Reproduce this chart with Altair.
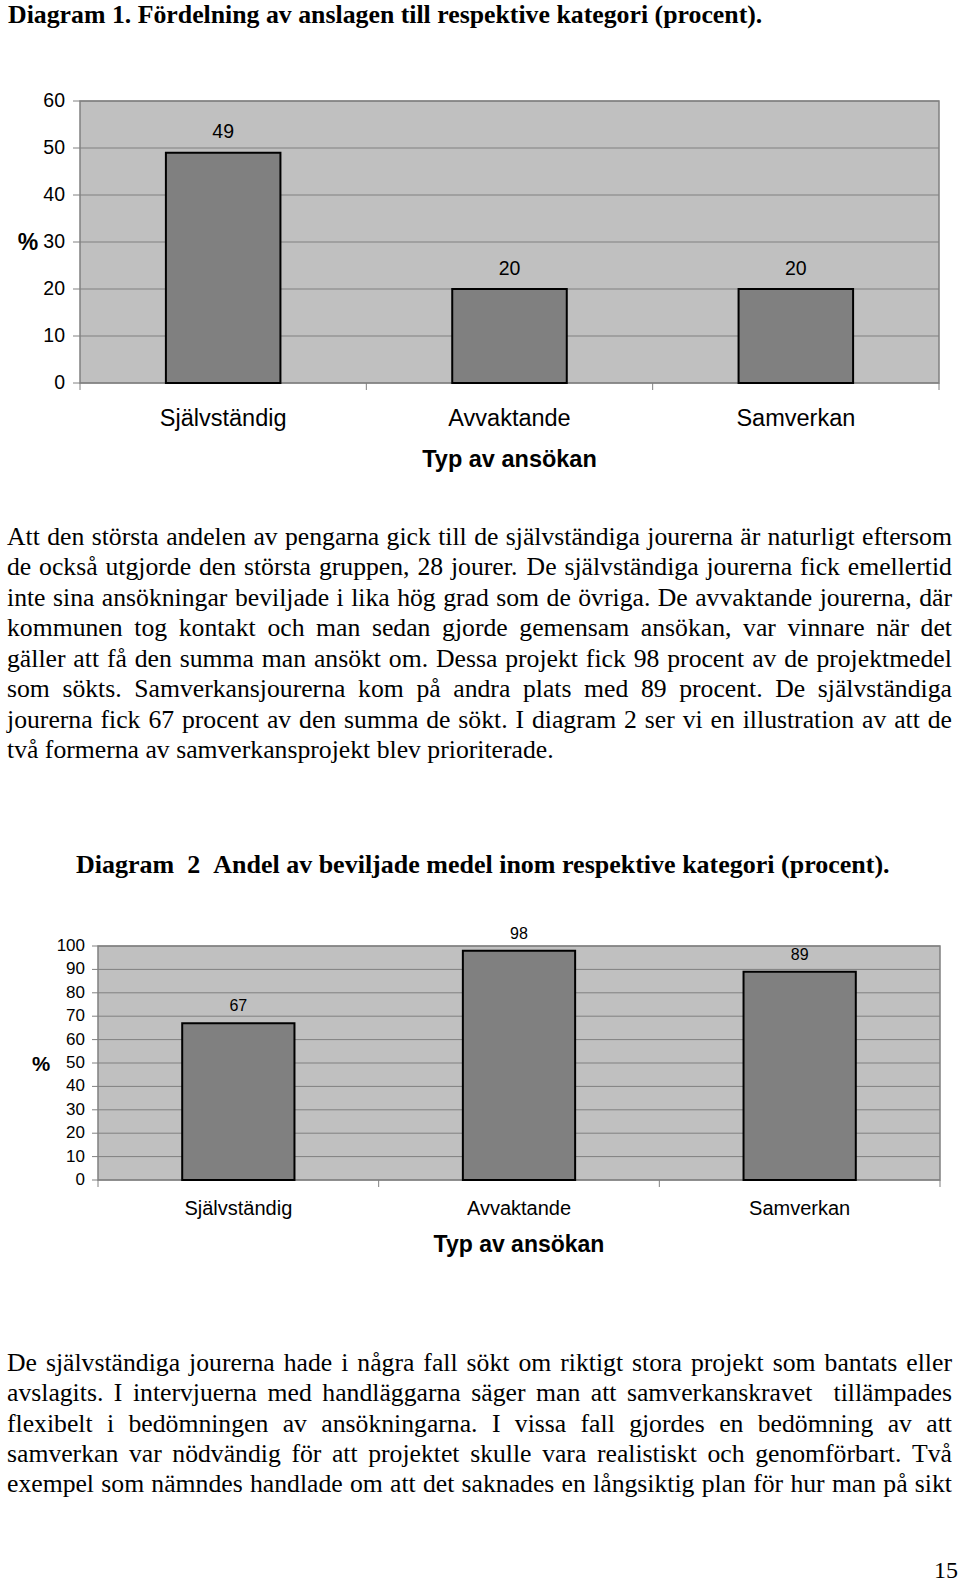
import altair as alt
import pandas as pd

# ---------------- data ----------------
categories = ["Självständig", "Avvaktande", "Samverkan"]
share_of_grants = [49, 20, 20]      # Diagram 1 (% of total grants)
share_approved = [67, 98, 89]       # Diagram 2 (% of applied amount granted)
ticks_1 = [0, 10, 20, 30, 40, 50, 60]
ticks_2 = [0, 10, 20, 30, 40, 50, 60, 70, 80, 90, 100]

title_1 = "Diagram 1. Fördelning av anslagen till respektive kategori (procent)."
title_2 = "Diagram\u00a0\u00a02\u00a0\u00a0Andel av beviljade medel inom respektive kategori (procent)."
x_title = "Typ av ansökan"
y_title = "%"
page_number = "15"

paragraph_1 = [
    "Att den största andelen av pengarna gick till de självständiga jourerna är naturligt eftersom",
    "de också utgjorde den största gruppen, 28 jourer. De självständiga jourerna fick emellertid",
    "inte sina ansökningar beviljade i lika hög grad som de övriga. De avvaktande jourerna, där",
    "kommunen tog kontakt och man sedan gjorde gemensam ansökan, var vinnare när det",
    "gäller att få den summa man ansökt om. Dessa projekt fick 98 procent av de projektmedel",
    "som sökts. Samverkansjourerna kom på andra plats med 89 procent. De självständiga",
    "jourerna fick 67 procent av den summa de sökt. I diagram 2 ser vi en illustration av att de",
    "två formerna av samverkansprojekt blev prioriterade.",
]
paragraph_2 = [
    "De självständiga jourerna hade i några fall sökt om riktigt stora projekt som bantats eller",
    "avslagits. I intervjuerna med handläggarna säger man att samverkanskravet  tillämpades",
    "flexibelt i bedömningen av ansökningarna. I vissa fall gjordes en bedömning av att",
    "samverkan var nödvändig för att projektet skulle vara realistiskt och genomförbart. Två",
    "exempel som nämndes handlade om att det saknades en långsiktig plan för hur man på sikt",
]

# ---------------- style / layout ----------------
W, H = 960, 1583
SANS = "Liberation Sans"
SERIF = "Liberation Serif"
BG = "#c0c0c0"
BAR = "#808080"
GRID = "#808080"

# Advance widths (1/1000 em) of the serif body font, used only to justify lines.
CHAR_W = {" ": 250, "\u00a0": 250, ",": 250, ".": 250, "å": 444, "ä": 444, "ö": 500,
          "A": 722, "D": 722, "I": 333, "S": 556, "T": 611}
CHAR_W.update({c: 500 for c in "0123456789"})
CHAR_W.update(dict(zip("abcdefghijklmnopqrstuvwxyz",
                       [444, 500, 444, 500, 444, 333, 500, 500, 278, 278, 500, 278, 778,
                        500, 500, 500, 500, 333, 389, 278, 500, 500, 722, 500, 500, 444])))


def text_width(s, size):
    return sum(CHAR_W.get(c, 500) for c in s) * size / 1000.0


def justified_words(lines, left, right, size, justify_last):
    rows = []
    for i, line in enumerate(lines):
        words = line.split(" ")
        widths = [text_width(w, size) for w in words]
        last = i == len(lines) - 1
        if (not last or justify_last) and len(words) > 1:
            gap = (right - left - sum(widths)) / (len(words) - 1)
        else:
            gap = CHAR_W[" "] * size / 1000.0
        x = left
        for w, wd in zip(words, widths):
            if w:
                rows.append({"w": w, "line": i, "x": x})
            x += wd + gap
    return pd.DataFrame(rows)


def paragraph(lines, y0, step, size, justify_last):
    df = justified_words(lines, 7, 952, size, justify_last)
    return alt.Chart(df).transform_calculate(
        py=f"{y0} + datum.line * {step}"
    ).mark_text(
        align="left", baseline="alphabetic", font=SERIF, fontSize=size, color="black"
    ).encode(
        x=alt.X("x:Q", scale=None), y=alt.Y("py:Q", scale=None), text="w:N"
    )


def single_text(txt, x, y, font, size, weight="normal", align="left"):
    return alt.Chart(pd.DataFrame({"t": [txt]})).mark_text(
        align=align, baseline="alphabetic", font=font, fontSize=size,
        fontWeight=weight, color="black",
    ).encode(x=alt.value(x), y=alt.value(y), text="t:N")


def panel(values, ticks, box, s):
    left, right, top, bottom = box
    df = pd.DataFrame({"kategori": categories, "procent": values})
    gdf = pd.DataFrame({"v": ticks})
    xs = alt.Scale(domain=categories, range=[left, right], paddingInner=0, paddingOuter=0)
    ys = alt.Scale(domain=[ticks[0], ticks[-1]], range=[bottom, top], nice=False)
    X = lambda **kw: alt.X("kategori:N", scale=xs, sort=categories, axis=None, **kw)

    bg = alt.Chart(gdf).mark_rect(fill=BG, stroke=GRID, strokeWidth=1.5).encode(
        x=alt.value(left), x2=alt.value(right),
        y=alt.Y("max(v):Q", scale=ys, axis=None), y2=alt.Y2("min(v):Q"),
    )
    grid = alt.Chart(gdf).mark_rule(color=GRID, strokeWidth=1).encode(
        y=alt.Y("v:Q", scale=ys, axis=None), x=alt.value(left), x2=alt.value(right),
    )
    ytick_marks = alt.Chart(gdf).mark_rule(color=GRID, strokeWidth=1).encode(
        y=alt.Y("v:Q", scale=ys, axis=None),
        x=alt.value(left - s["ytick"]), x2=alt.value(left),
    )
    ytick_labels = alt.Chart(gdf).mark_text(
        align="right", baseline="middle", font=SANS, fontSize=s["ylab"], color="black"
    ).encode(
        y=alt.Y("v:Q", scale=ys, axis=None), x=alt.value(left - s["ytick"] - s["ypad"]),
        text="v:Q",
    )
    xtick_marks = alt.Chart(df).mark_rule(color=GRID, strokeWidth=1).encode(
        x=X(bandPosition=0), y=alt.value(bottom), y2=alt.value(bottom + 7),
    )
    xtick_end = alt.Chart(df).transform_filter(
        alt.datum.kategori == categories[-1]
    ).mark_rule(color=GRID, strokeWidth=1).encode(
        x=X(bandPosition=1), y=alt.value(bottom), y2=alt.value(bottom + 7),
    )
    xtick_labels = alt.Chart(df).mark_text(
        align="center", baseline="alphabetic", font=SANS, fontSize=s["xlab"], color="black"
    ).encode(
        x=X(), y=alt.value(bottom + s["xlabdy"]), text="kategori:N",
    )
    bars = alt.Chart(df).mark_bar(
        width={"band": 0.4}, color=BAR, stroke="black", strokeWidth=2
    ).encode(
        x=X(), y=alt.Y("procent:Q", scale=ys, axis=None),
    )
    labels = alt.Chart(df).mark_text(
        font=SANS, fontSize=s["val"], baseline="alphabetic", dy=s["valdy"], color="black"
    ).encode(
        x=X(), y=alt.Y("procent:Q", scale=ys, axis=None), text="procent:Q",
    )
    pct = single_text(y_title, s["pctX"], s["pctY"], SANS, s["pct"], "bold", "center")
    xt = single_text(x_title, (left + right) / 2, s["titleY"], SANS, s["title"], "bold", "center")
    return alt.layer(bg, grid, ytick_marks, ytick_labels, xtick_marks, xtick_end,
                     xtick_labels, bars, labels, pct, xt)


p1 = panel(
    share_of_grants, ticks_1, (80, 939, 101, 383),
    dict(xlab=23.5, xlabdy=43, title=23.5, titleY=467, ytick=7, ylab=19.5, ypad=8,
         pct=23, pctX=28, pctY=250, val=19.5, valdy=-14.5),
)
p2 = panel(
    share_approved, ticks_2, (98, 940, 946, 1180),
    dict(xlab=20, xlabdy=35, title=23, titleY=1252, ytick=6, ylab=17, ypad=7,
         pct=20.5, pctX=41, pctY=1070.5, val=16, valdy=-12),
)

t1 = single_text(title_1, 8, 23, SERIF, 25.8, "bold")
t2 = single_text(title_2, 76, 873, SERIF, 26, "bold")
body1 = paragraph(paragraph_1, 545, 30.45, 25.7, justify_last=False)
body2 = paragraph(paragraph_2, 1371, 30.3, 25.7, justify_last=True)
pnum = single_text(page_number, 958, 1578, SERIF, 24, align="right")

chart = alt.layer(p1, p2, t1, t2, body1, body2, pnum).resolve_scale(
    x="independent", y="independent"
).properties(
    width=W, height=H, autosize=alt.AutoSizeParams(type="none"), padding=0,
    background="white",
).configure_view(stroke=None)

chart.save("out.html", embed_options={"renderer": "svg", "actions": False})
